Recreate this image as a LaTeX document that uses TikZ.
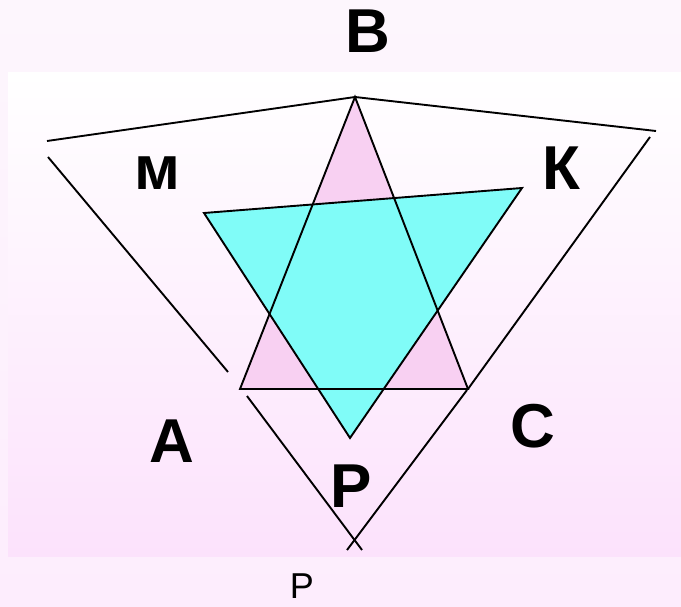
\documentclass[tikz,border=0pt]{standalone}
\usepackage{fontspec}
\setmainfont{Liberation Sans}
\definecolor{bgtop}{HTML}{FDF6FD}
\definecolor{bgbot}{HTML}{FDEDFD}
\definecolor{pictop}{HTML}{FFFFFF}
\definecolor{picbot}{HTML}{FCE2FC}
\definecolor{pinkfill}{HTML}{F8D0F2}
\definecolor{cyanfill}{HTML}{80FCF8}
\begin{document}
\begin{tikzpicture}[x=1pt,y=-1pt,
  edge/.style={draw=black,line width=1.9pt},
  biglabel/.style={font=\fontsize{62}{62}\selectfont\bfseries,anchor=base,inner sep=0pt},
  smalllabel/.style={font=\fontsize{36}{36}\selectfont,anchor=base,inner sep=0pt}]
\useasboundingbox (0,0) rectangle (681,607);
\shade[top color=bgtop,bottom color=bgbot] (0,0) rectangle (681,607);
\shade[top color=pictop,bottom color=picbot] (8,73) rectangle (681,556);
% points
\coordinate (B) at (355,97);
\coordinate (A) at (240,389);
\coordinate (C) at (468,389);
\coordinate (M) at (204,213);
\coordinate (K) at (522,188);
\coordinate (P) at (350,438);
\coordinate (TL) at (47,141);
\coordinate (TR) at (656,131);
\coordinate (L1) at (48,157);
\coordinate (L2) at (228,372);
\coordinate (R1) at (650,137);
\coordinate (D1) at (247,396);
\coordinate (D2) at (362,550);
\coordinate (E1) at (467,390);
\coordinate (E2) at (347,550);
% triangles
\fill[pinkfill] (A) -- (B) -- (C) -- cycle;
\fill[cyanfill] (M) -- (K) -- (P) -- cycle;
\draw[edge] (A) -- (B) -- (C) -- cycle;
\draw[edge] (M) -- (K) -- (P) -- cycle;
% outer lines
\draw[edge] (TL) -- (B) -- (TR);
\draw[edge] (L1) -- (L2);
\draw[edge] (R1) -- (C);
\draw[edge] (D1) -- (D2);
\draw[edge] (E1) -- (E2);
% labels
\node[biglabel] (lB) at (368,53) {В};
\node[biglabel] (lM) at (157,190) {м};
\node[biglabel] (lK) at (561,190) {К};
\node[biglabel] (lA) at (172,462) {А};
\node[biglabel] (lC) at (533,447) {С};
\node[biglabel] (lP) at (351,507) {Р};
\node[smalllabel] (lP2) at (302,598) {Р};
\end{tikzpicture}
\end{document}
